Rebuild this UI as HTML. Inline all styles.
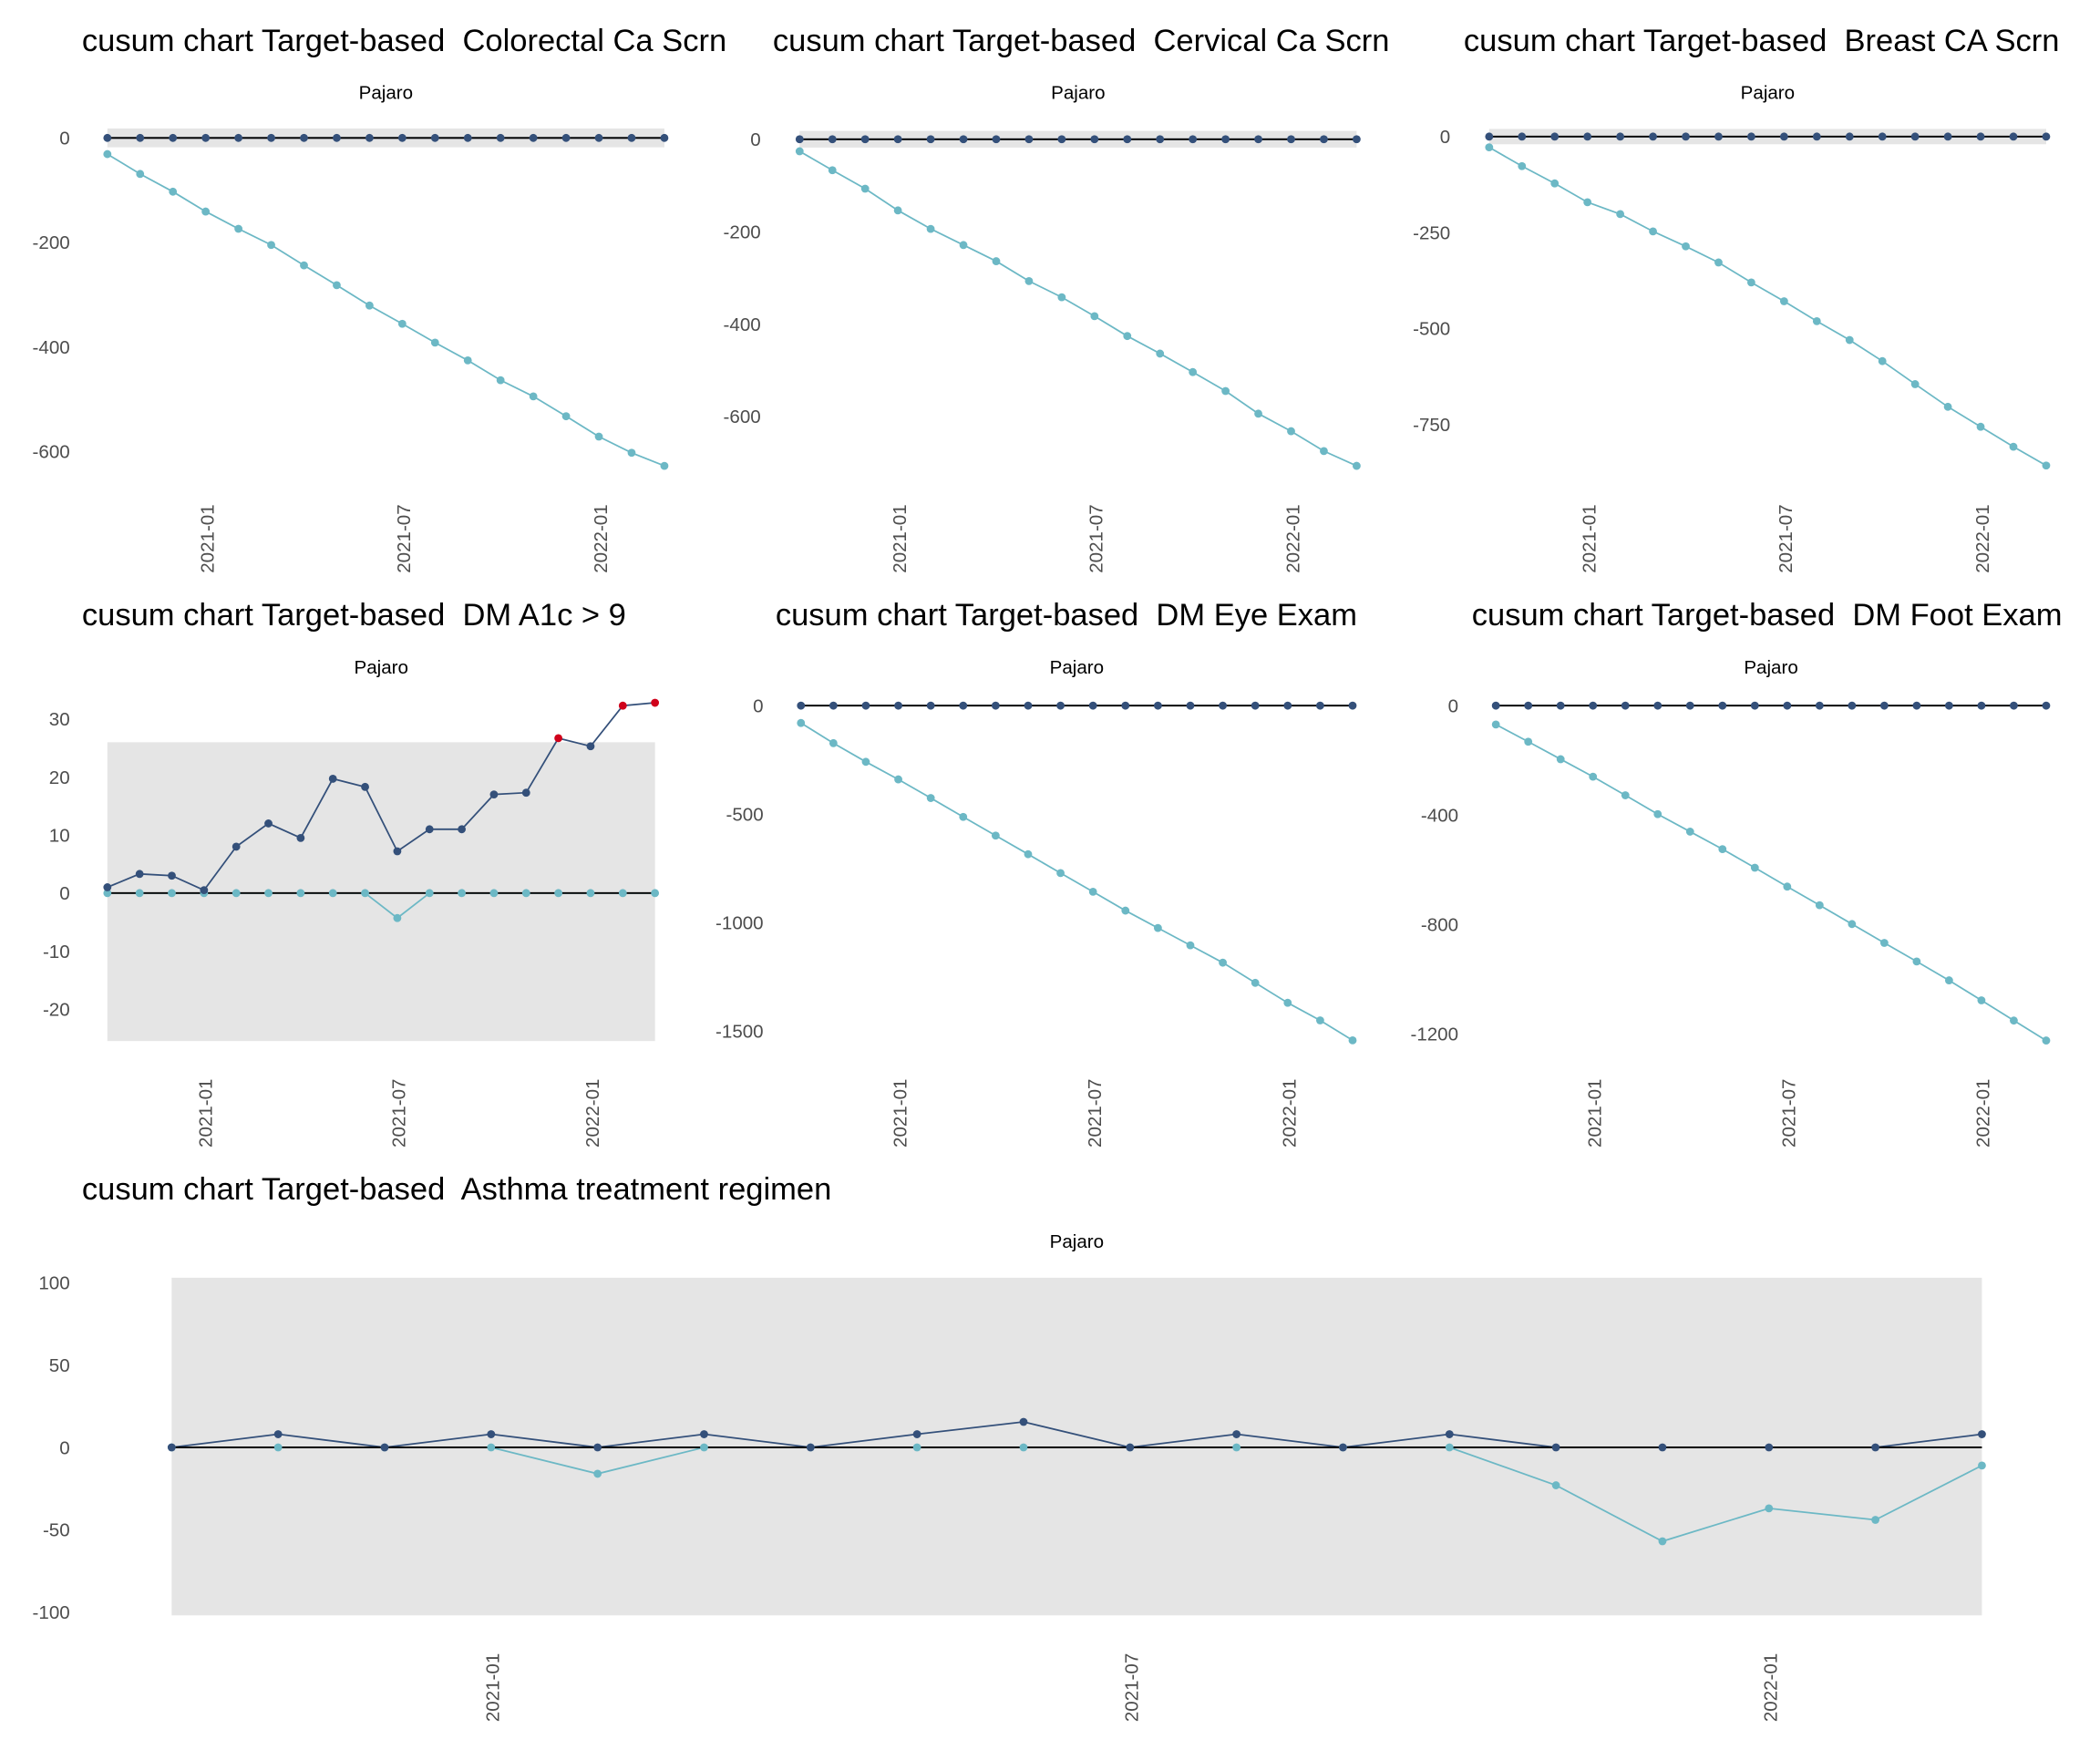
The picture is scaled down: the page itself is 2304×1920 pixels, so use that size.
<!DOCTYPE html>
<html><head><meta charset="utf-8"><style>
html,body{margin:0;padding:0;background:#fff;}
svg{display:block;font-family:"Liberation Sans",Arial,sans-serif;}
.ttl{white-space:pre;}
</style></head><body>
<svg id="chart" width="2304" height="1920" viewBox="0 0 1568 1307" xmlns="http://www.w3.org/2000/svg" xml:space="preserve"></svg>
<script>
const months = ["2020-10","2020-11","2020-12","2021-01","2021-02","2021-03","2021-04","2021-05","2021-06","2021-07","2021-08","2021-09","2021-10","2021-11","2021-12","2022-01","2022-02","2022-03"];
const tickMonths = ["2021-01","2021-07","2022-01"];
const colorectalUpper = [0,0,0,0,0,0,0,0,0,0,0,0,0,0,0,0,0,0];
const colorectalLower = [-31,-69,-103,-141,-174,-205,-244,-282,-321,-356,-392,-426,-464,-495,-533,-572,-603,-628];
const cervicalUpper = [0,0,0,0,0,0,0,0,0,0,0,0,0,0,0,0,0,0];
const cervicalLower = [-26,-67,-107,-154,-194,-229,-264,-307,-342,-383,-426,-464,-504,-545,-594,-632,-675,-707];
const breastUpper = [0,0,0,0,0,0,0,0,0,0,0,0,0,0,0,0,0,0];
const breastLower = [-28,-77,-122,-171,-202,-247,-286,-328,-380,-429,-481,-530,-585,-645,-704,-756,-808,-857];
const a1cUpper = [1,3.3,3,0.5,8,12,9.5,19.7,18.3,7.2,11,11,17,17.3,26.7,25.3,32.3,32.8];
const a1cLower = [0,0,0,0,0,0,0,0,0,-4.3,0,0,0,0,0,0,0,0];
const eyeUpper = [0,0,0,0,0,0,0,0,0,0,0,0,0,0,0,0,0,0];
const eyeLower = [-80,-173,-259,-340,-426,-513,-599,-685,-772,-858,-945,-1025,-1105,-1185,-1278,-1370,-1451,-1543];
const footUpper = [0,0,0,0,0,0,0,0,0,0,0,0,0,0,0,0,0,0];
const footLower = [-69,-132,-196,-260,-328,-397,-461,-525,-593,-662,-730,-799,-868,-936,-1005,-1078,-1152,-1225];
const asthmaUpper = [0,8,0,8,0,8,0,8,15.5,0,8,0,8,0,0,0,0,8];
const asthmaLower = [0,0,0,0,-16,0,0,0,0,0,0,0,0,-23,-57,-37,-44,-11];
const colorectalTicks = [0,-200,-400,-600];
const cervicalTicks = [0,-200,-400,-600];
const breastTicks = [0,-250,-500,-750];
const a1cTicks = [30,20,10,0,-10,-20];
const eyeTicks = [0,-500,-1000,-1500];
const footTicks = [0,-400,-800,-1200];
const asthmaTicks = [100,50,0,-50,-100];

const NS="http://www.w3.org/2000/svg";
const svg=document.getElementById('chart');
function mk(tag,attrs,parent){const e=document.createElementNS(NS,tag);for(const k in attrs)e.setAttribute(k,attrs[k]);(parent||svg).appendChild(e);return e;}

function panel(o){
  const g=mk('g',{});
  
  
  const y=v=>o.y0+(o.yRef-o.y0)*(v/o.vRef);
  const x=i=>o.x0+(o.x1-o.x0)*i/(months.length-1);
  const t=mk('text',{x:o.titleX,y:o.titleY,'font-size':23.5,fill:'#000','class':'ttl'},g);t.textContent=o.title;
  
  
  const s=mk('text',{x:(o.x0+o.x1)/2,y:o.titleY+36,'font-size':14,fill:'#000','text-anchor':'middle'},g);s.textContent='Pajaro';
  
  
  if(o.band){
    const b=mk('rect',{x:o.x0,y:y(o.band[0]),width:o.x1-o.x0,height:y(o.band[1])-y(o.band[0]),fill:'#e5e5e5'},g);
    
    
  }
  o.ticks.forEach(v=>{const l=mk('text',{x:o.labelX,y:y(v)+5,'font-size':14,fill:'#4d4d4d','text-anchor':'end'},g);l.textContent=v;
    
    });
  tickMonths.forEach(m=>{const i=months.indexOf(m);const xx=x(i)+6;
    const l=mk('text',{x:xx,y:o.xLabY,'font-size':14,fill:'#4d4d4d',transform:`rotate(-90 ${xx} ${o.xLabY})`},g);l.textContent=m;
    
    });
  const series=[[o.lower,'#6cb8c5','lower-cusum'],[o.upper,'#34507a','upper-cusum']];
  series.forEach(([d,c,n])=>{
    const p=mk('polyline',{points:d.map((v,i)=>x(i)+','+y(v)).join(' '),fill:'none',stroke:c,'stroke-width':1.2},g);
    
    
  });
  const z=mk('line',{x1:o.x0,x2:o.x1,y1:y(0),y2:y(0),stroke:'#000','stroke-width':1.3},g);
  
  
  series.forEach(([d,c,n])=>{
    d.forEach((v,i)=>{const red=o.band&&v>o.band[0];
      const pt=mk('circle',{cx:x(i),cy:y(v),r:3,fill:red?'#d0021b':c},g);
      
      });
  });
}
panel({name:'colorectal',title:'cusum chart Target-based  Colorectal Ca Scrn',titleX:61,titleY:38,x0:80,x1:496,y0:103,yRef:337,vRef:-600,labelX:52,xLabY:428,ticks:colorectalTicks,upper:colorectalUpper,lower:colorectalLower,band:[18,-18]});
panel({name:'cervical',title:'cusum chart Target-based  Cervical Ca Scrn',titleX:577,titleY:38,x0:597,x1:1013,y0:104,yRef:311,vRef:-600,labelX:568,xLabY:428,ticks:cervicalTicks,upper:cervicalUpper,lower:cervicalLower,band:[18,-18]});
panel({name:'breast',title:'cusum chart Target-based  Breast CA Scrn',titleX:1093,titleY:38,x0:1112,x1:1528,y0:102,yRef:317,vRef:-750,labelX:1083,xLabY:428,ticks:breastTicks,upper:breastUpper,lower:breastLower,band:[20,-20]});
panel({name:'a1c',title:'cusum chart Target-based  DM A1c > 9',titleX:61,titleY:467,x0:80,x1:489,y0:667,yRef:537,vRef:30,labelX:52,xLabY:857,ticks:a1cTicks,upper:a1cUpper,lower:a1cLower,band:[26,-25.5]});
panel({name:'eye',title:'cusum chart Target-based  DM Eye Exam',titleX:579,titleY:467,x0:598,x1:1010,y0:527,yRef:770,vRef:-1500,labelX:570,xLabY:857,ticks:eyeTicks,upper:eyeUpper,lower:eyeLower});
panel({name:'foot',title:'cusum chart Target-based  DM Foot Exam',titleX:1099,titleY:467,x0:1117,x1:1528,y0:527,yRef:772,vRef:-1200,labelX:1089,xLabY:857,ticks:footTicks,upper:footUpper,lower:footLower});
panel({name:'asthma',title:'cusum chart Target-based  Asthma treatment regimen',titleX:61,titleY:896,x0:128,x1:1480,y0:1081,yRef:958,vRef:100,labelX:52,xLabY:1286,ticks:asthmaTicks,upper:asthmaUpper,lower:asthmaLower,band:[103,-102]});
</script>
</body></html>
